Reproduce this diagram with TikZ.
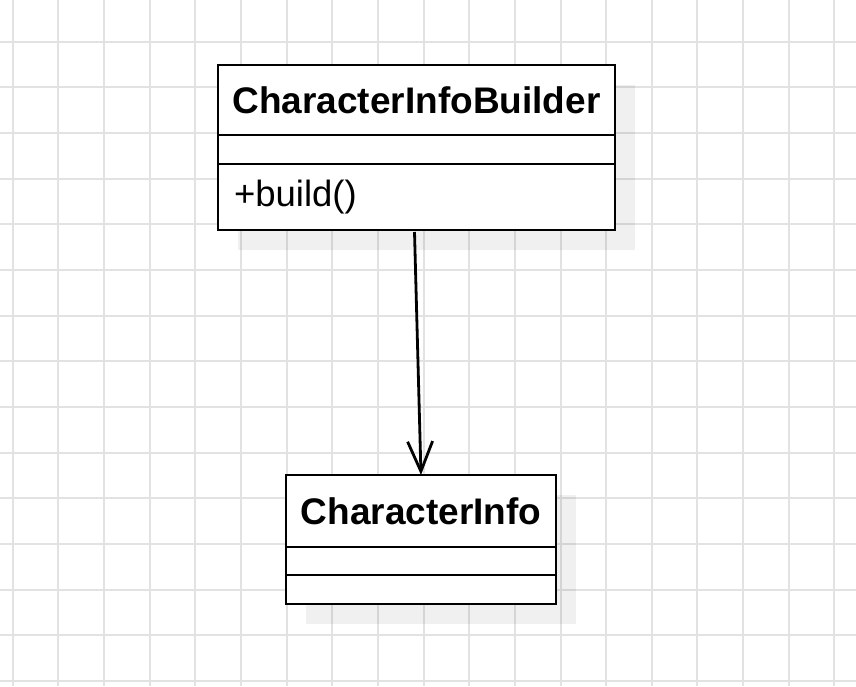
\documentclass[tikz,border=0pt]{standalone}
\usepackage{fontspec}
\setmainfont{Liberation Sans}
\usetikzlibrary{positioning,arrows.meta}
\definecolor{gridgray}{RGB}{226,226,226}
\pgfdeclarelayer{background}
\pgfsetlayers{background,main}

\begin{document}
\begin{tikzpicture}[
    x=1pt,y=-1pt,
    every node/.style = {draw,line width=2.8pt,fill=white,outer sep=0pt,inner sep=0pt},
    classname/.style = {font=\fontsize{37}{42}\selectfont\bfseries},
    member/.style = {font=\fontsize{36.5}{42}\selectfont,align=left,inner xsep=16pt},
    shadowbox/.style = {fill=black,opacity=.06},
    gridline/.style = {color=gridgray,line width=2pt},
    usesarrow/.style = {line width=2.8pt,-{Straight Barb[length=30pt,width=25pt]}},
    ]
    \useasboundingbox (0,0) rectangle (856,686);
    % builder class
    \node[classname,minimum width=397pt,minimum height=70pt] (builder-name) at (416.5,100) {CharacterInfoBuilder};
    \node[minimum width=397pt,minimum height=29pt,below=0pt of builder-name] (builder-attr) {};
    \node[member,text width=365pt,minimum height=66pt,below=0pt of builder-attr] (builder-ops) {+build()};
    % product class
    \node[classname,minimum width=270pt,minimum height=72pt] (info-name) at (421,511) {CharacterInfo};
    \node[minimum width=270pt,minimum height=28pt,below=0pt of info-name] (info-attr) {};
    \node[minimum width=270pt,minimum height=29pt,below=0pt of info-attr] (info-ops) {};

    \draw[usesarrow] ([xshift=-2pt,yshift=-2pt]builder-ops.south) -- (info-name.north);

    \begin{pgfonlayer}{background}
    \fill[white] (0,0) rectangle (856,686);
    \foreach \k in {0,...,18}
        \draw[gridline] ({12.7+45.65*\k},0) -- ({12.7+45.65*\k},686);
    \foreach \k in {0,...,14}
        \draw[gridline] (0,{41.7+45.65*\k}) -- (856,{41.7+45.65*\k});
    \fill[shadowbox] ([shift={(20pt,-20pt)}]builder-name.north west) rectangle ([shift={(20pt,-20pt)}]builder-ops.south east);
    \fill[shadowbox] ([shift={(20pt,-20pt)}]info-name.north west) rectangle ([shift={(20pt,-20pt)}]info-ops.south east);
    \end{pgfonlayer}
\end{tikzpicture}
\end{document}
